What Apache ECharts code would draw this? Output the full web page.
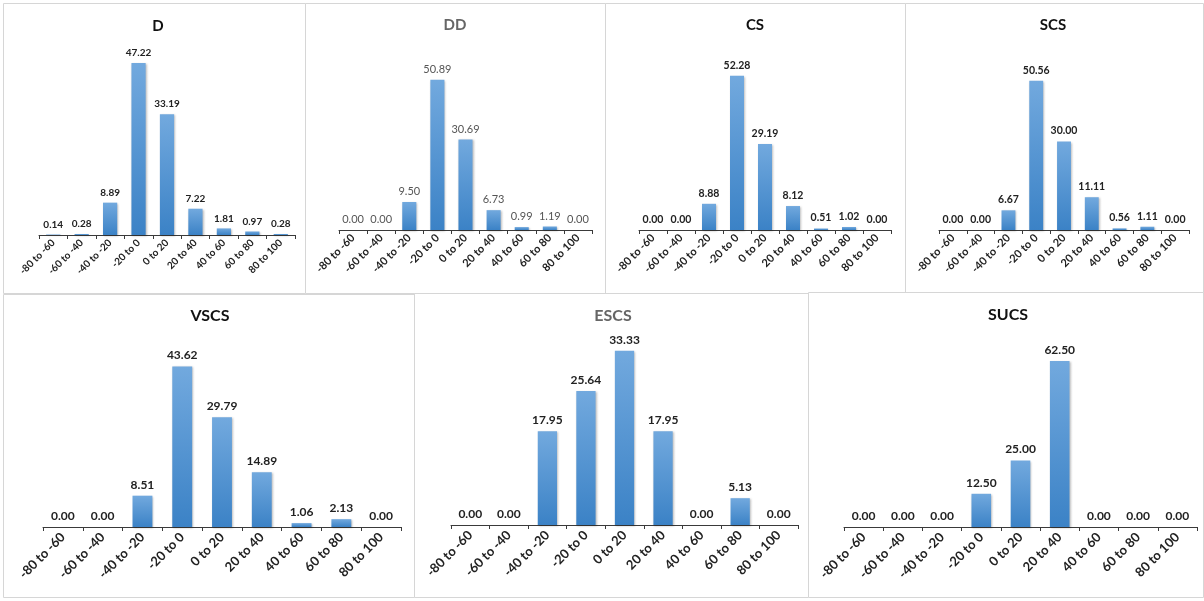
<!DOCTYPE html>
<html>
<head>
<meta charset="utf-8">
<script src="https://cdn.jsdelivr.net/npm/echarts@6/dist/echarts.min.js"></script>
<style>
html,body{margin:0;padding:0;background:#fff;}
#c{width:1204px;height:601px;}
</style>
</head>
<body>
<div id="c"></div>
<script>
const categories = ['-80 to -60','-60 to -40','-40 to -20','-20 to 0','0 to 20','20 to 40','40 to 60','60 to 80','80 to 100'];
const panelNames = ['D','DD','CS','SCS','VSCS','ESCS','SUCS'];
const valuesD    = [0.14, 0.28, 8.89, 47.22, 33.19, 7.22, 1.81, 0.97, 0.28];
const valuesDD   = [0.00, 0.00, 9.50, 50.89, 30.69, 6.73, 0.99, 1.19, 0.00];
const valuesCS   = [0.00, 0.00, 8.88, 52.28, 29.19, 8.12, 0.51, 1.02, 0.00];
const valuesSCS  = [0.00, 0.00, 6.67, 50.56, 30.00, 11.11, 0.56, 1.11, 0.00];
const valuesVSCS = [0.00, 0.00, 8.51, 43.62, 29.79, 14.89, 1.06, 2.13, 0.00];
const valuesESCS = [0.00, 0.00, 17.95, 25.64, 33.33, 17.95, 0.00, 5.13, 0.00];
const valuesSUCS = [0.00, 0.00, 0.00, 12.50, 25.00, 62.50, 0.00, 0.00, 0.00];
const yMax = [50, 60, 60, 60, 50, 35, 70];

const allValues = [valuesD, valuesDD, valuesCS, valuesSCS, valuesVSCS, valuesESCS, valuesSUCS];

// layout (pixels)
const grids = [
  {left:39,  width:256, top:53,  height:182},
  {left:339, width:253, top:53,  height:177},
  {left:639, width:252, top:53,  height:177},
  {left:939, width:250, top:53,  height:177},
  {left:43,  width:358, top:343, height:184},
  {left:451, width:347, top:342, height:183},
  {left:844, width:353, top:341, height:186}
];
const titlePos = [
  {x:158, y:19}, {x:455, y:18}, {x:755, y:18}, {x:1053, y:18},
  {x:210, y:308}, {x:613, y:308}, {x:1008, y:307}
];
const panels = [
  [3,3,302,290],[305,3,300,290],[605,3,300,290],[905,3,298,290],
  [3,294,411,303],[414,293,394,304],[808,292,395,305]
];
const grayStyle = [false, true, false, false, false, true, false];
const axisFont = [10, 11, 11, 11, 13, 13, 13];
const labelFont = [10, 11, 10.5, 10.5, 12, 12, 12];
const axisMargin = [6, 6, 6, 6, 8, 8, 8];
const FONT = 'Lato, "Open Sans", "DejaVu Sans", sans-serif';

const barColor = new echarts.graphic.LinearGradient(0,0,0,1,[
  {offset:0, color:'#72A9DE'},
  {offset:1, color:'#3B82C6'}
]);

const option = {
  backgroundColor:'#ffffff',
  animation:false,
  textStyle:{fontFamily:FONT},
  graphic: panels.map(p => ({
    type:'rect', silent:true, z:-10,
    shape:{x:p[0]+0.5, y:p[1]+0.5, width:p[2], height:p[3]},
    style:{fill:'#ffffff', stroke:'#d6d6d6', lineWidth:1}
  })),
  title: panelNames.map((n,i) => ({
    text:n,
    left:titlePos[i].x,
    top:titlePos[i].y,
    textAlign:'center',
    padding:0,
    textStyle:{
      fontFamily:FONT,
      fontSize: i < 4 ? 15 : 16,
      fontWeight: 'bold',
      color: grayStyle[i] ? '#666666' : '#111111'
    }
  })),
  grid: grids.map(g => Object.assign({containLabel:false}, g)),
  xAxis: grids.map((g,i) => ({
    type:'category',
    gridIndex:i,
    data:categories,
    axisLine:{lineStyle:{color:'#3a3a3a', width:1}},
    axisTick:{show:true, length:4, lineStyle:{color:'#3a3a3a'}},
    axisLabel:{
      rotate:45,
      interval:0,
      margin:axisMargin[i],
      fontFamily:FONT,
      fontSize: axisFont[i],
      fontWeight:'bold',
      color:'#222222'
    }
  })),
  yAxis: grids.map((g,i) => ({
    type:'value', gridIndex:i, min:0, max:yMax[i],
    show:false, splitLine:{show:false}
  })),
  series: allValues.map((vals,i) => ({
    type:'bar',
    xAxisIndex:i, yAxisIndex:i,
    data:vals,
    barWidth:'50%',
    itemStyle:{color:barColor, shadowColor:'rgba(0,0,0,0.25)', shadowBlur:2, shadowOffsetX:1, shadowOffsetY:1},
    label:{
      show:true,
      position:'top',
      distance:5,
      formatter: p => p.value.toFixed(2),
      fontFamily:FONT,
      fontSize: labelFont[i],
      fontWeight: (i===1) ? 'normal' : 'bold',
      color: (i===1) ? '#555555' : '#222222'
    }
  }))
};

const chart = echarts.init(document.getElementById('c'), null, {renderer:'canvas'});
chart.setOption(option);
</script>
</body>
</html>
